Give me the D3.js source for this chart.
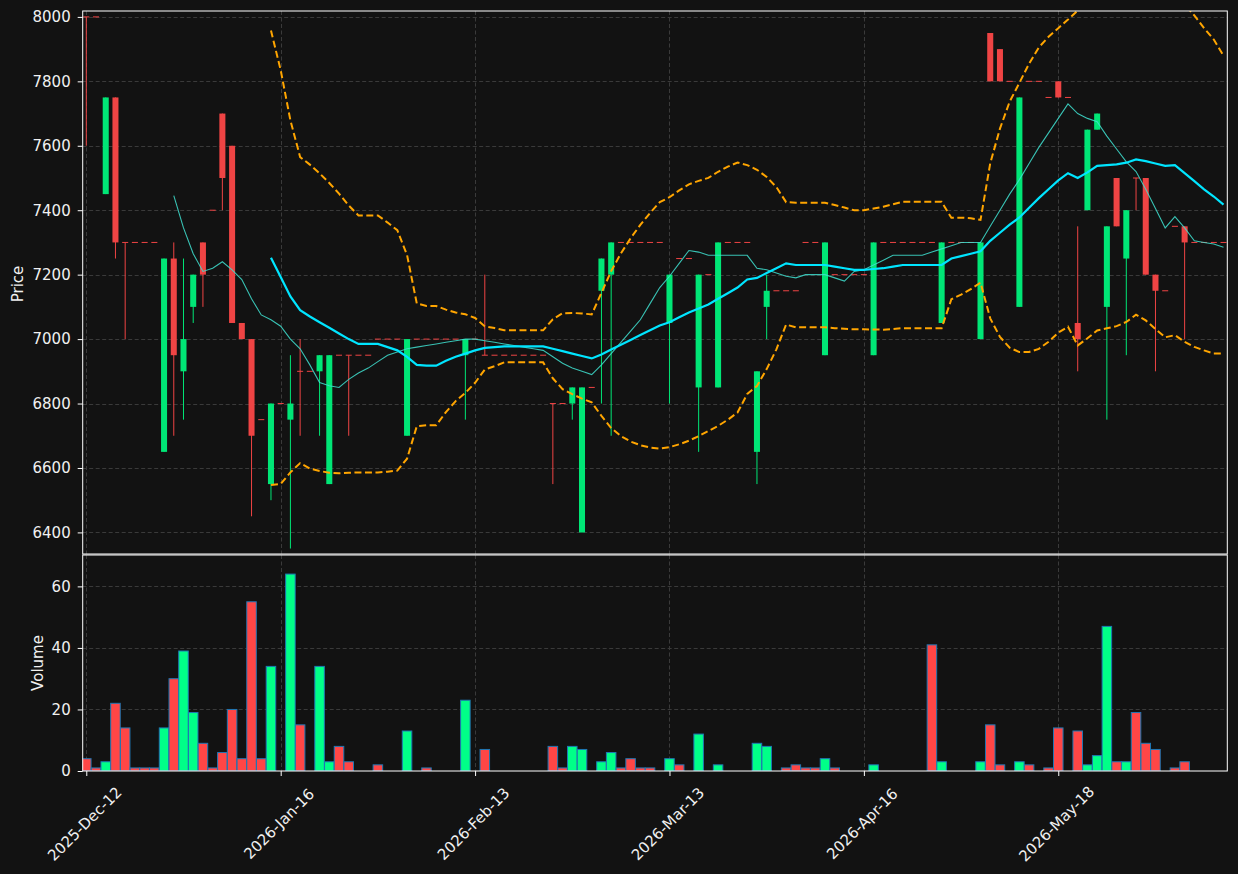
<!DOCTYPE html>
<html>
<head>
<meta charset="utf-8">
<script src="https://cdn.jsdelivr.net/npm/d3@7"></script>
<style>
  body { margin: 0; background: #121212; }
  svg { display: block; font-family: "DejaVu Sans", sans-serif; }
</style>
</head>
<body>
<svg width="1238" height="874"></svg>
<script>
// candle data, one entry per trading bar (index 0 = 2025-Dec-12)
var opens = [
  8000, 8000, 7450, 7750, 7300, 7300, 7300, 7300, 6650, 7250,
  6900, 7100, 7300, 7400, 7700, 7600, 7050, 7000, 6750, 6550,
  6800, 6750, 6900, 6900, 6900, 6550, 6950, 6950, 6950, 6950,
  7000, 7000, 7000, 6700, 7000, 7000, 7000, 7000, 7000, 6950,
  7000, 6950, 6950, 6950, 6950, 6950, 6950, 6950, 6800, 6800,
  6800, 6400, 6850, 7150, 7200, 7300, 7300, 7300, 7300, 7300,
  7050, 7250, 7250, 6850, 7200, 6850, 7300, 7300, 7300, 6650,
  7100, 7150, 7150, 7150, 7300, 7300, 6950, 7200, 7200, 7200,
  7200, 6950, 7300, 7300, 7300, 7300, 7300, 7300, 7050, 7300,
  7300, 7300, 7000, 7950, 7900, 7800, 7100, 7800, 7800, 7750,
  7800, 7750, 7050, 7400, 7650, 7100, 7500, 7250, 7500, 7500,
  7200, 7150, 7350, 7350, 7300, 7300, 7300, 7300
];
var highs = [
  8000, 8000, 7750, 7750, 7300, 7300, 7300, 7300, 7250, 7300,
  7250, 7200, 7300, 7400, 7700, 7600, 7050, 7000, 6750, 6800,
  6800, 6950, 7000, 6900, 6950, 6950, 6950, 6950, 6950, 6950,
  7000, 7000, 7000, 7000, 7000, 7000, 7000, 7000, 7000, 7000,
  7000, 7200, 6950, 6950, 6950, 6950, 6950, 6950, 6800, 6800,
  6850, 6850, 6850, 7250, 7300, 7300, 7300, 7300, 7300, 7300,
  7200, 7250, 7250, 7200, 7200, 7300, 7300, 7300, 7300, 6900,
  7200, 7150, 7150, 7150, 7300, 7300, 7300, 7200, 7200, 7200,
  7200, 7300, 7300, 7300, 7300, 7300, 7300, 7300, 7300, 7300,
  7300, 7300, 7300, 7950, 7900, 7800, 7750, 7800, 7800, 7750,
  7800, 7750, 7350, 7650, 7700, 7350, 7500, 7400, 7500, 7500,
  7200, 7150, 7350, 7350, 7300, 7300, 7300, 7300
];
var lows = [
  7600, 8000, 7450, 7250, 7000, 7300, 7300, 7300, 6650, 6700,
  6750, 7050, 7100, 7400, 7400, 7050, 7000, 6450, 6750, 6500,
  6800, 6350, 6700, 6900, 6700, 6550, 6950, 6700, 6950, 6950,
  7000, 7000, 7000, 6700, 7000, 7000, 7000, 7000, 7000, 6750,
  7000, 6950, 6950, 6950, 6950, 6950, 6950, 6950, 6550, 6800,
  6750, 6400, 6850, 6800, 6700, 7300, 7300, 7300, 7300, 7300,
  6800, 7250, 7250, 6650, 7200, 6850, 7300, 7300, 7300, 6550,
  7000, 7150, 7150, 7150, 7300, 7300, 6950, 7200, 7200, 7200,
  7200, 6950, 7300, 7300, 7300, 7300, 7300, 7300, 7050, 7300,
  7300, 7300, 7000, 7800, 7800, 7800, 7100, 7800, 7800, 7750,
  7750, 7750, 6900, 7400, 7650, 6750, 7350, 6950, 7400, 7200,
  6900, 7150, 7350, 7000, 7300, 7300, 7300, 7300
];
var closes = [
  8000, 8000, 7750, 7300, 7300, 7300, 7300, 7300, 7250, 6950,
  7000, 7200, 7200, 7400, 7500, 7050, 7000, 6700, 6750, 6800,
  6800, 6800, 6900, 6900, 6950, 6950, 6950, 6950, 6950, 6950,
  7000, 7000, 7000, 7000, 7000, 7000, 7000, 7000, 7000, 7000,
  7000, 6950, 6950, 6950, 6950, 6950, 6950, 6950, 6800, 6800,
  6850, 6850, 6850, 7250, 7300, 7300, 7300, 7300, 7300, 7300,
  7200, 7250, 7250, 7200, 7200, 7300, 7300, 7300, 7300, 6900,
  7150, 7150, 7150, 7150, 7300, 7300, 7300, 7200, 7200, 7200,
  7200, 7300, 7300, 7300, 7300, 7300, 7300, 7300, 7300, 7300,
  7300, 7300, 7300, 7800, 7800, 7800, 7750, 7800, 7800, 7750,
  7750, 7750, 7000, 7650, 7700, 7350, 7350, 7400, 7500, 7200,
  7150, 7150, 7350, 7300, 7300, 7300, 7300, 7300
];
var volumes = [
  4, 1, 3, 22, 14, 1, 1, 1, 14, 30,
  39, 19, 9, 1, 6, 20, 4, 55, 4, 34,
  0, 64, 15, 0, 34, 3, 8, 3, 0, 0,
  2, 0, 0, 13, 0, 1, 0, 0, 0, 23,
  0, 7, 0, 0, 0, 0, 0, 0, 8, 1,
  8, 7, 0, 3, 6, 1, 4, 1, 1, 0,
  4, 2, 0, 12, 0, 2, 0, 0, 0, 9,
  8, 0, 1, 2, 1, 1, 4, 1, 0, 0,
  0, 2, 0, 0, 0, 0, 0, 41, 3, 0,
  0, 0, 3, 15, 2, 0, 3, 2, 0, 1,
  14, 0, 13, 2, 5, 47, 3, 3, 19, 9,
  7, 0, 1, 3, 0, 0, 0, 0
];

// axis ticks
var dateTickIdx = [0, 20, 40, 60, 80, 100];
var dateTickLabels = ['2025-Dec-12', '2026-Jan-16', '2026-Feb-13', '2026-Mar-13', '2026-Apr-16', '2026-May-18'];
var priceTicks = [6400, 6600, 6800, 7000, 7200, 7400, 7600, 7800, 8000];
var volumeTicks = [0, 20, 40, 60];

var up_color = '#00e676';
var down_color = '#ef4444';
var vol_up = '#00ff88';
var vol_down = '#ff4646';
var text_color = '#f0f0f0';
var grid_color = '#3a3a3a';
var font_size = '15px';

var svg = d3.select('svg');
svg.append('rect').attr('width', 1238).attr('height', 874).attr('fill', '#121212');

var left = 82.7, right = 1227.3;
var price_top = 11, price_bottom = 554;
var vol_top = 555, vol_bottom = 771;

var x = d3.scaleLinear().domain([-0.37, 117.39]).range([left, right]);
var yPrice = d3.scaleLinear().domain([6333, 8018.3]).range([price_bottom, price_top]);
var yVol = d3.scaleLinear().domain([0, 70.2]).range([vol_bottom, vol_top]);

var step = x(1) - x(0);
var body_w = step * 0.62;

// rolling mean / std of closes (what the indicators are built from)
function rolling(n, fn) {
  return closes.map(function(c, i) {
    if (i < n - 1) return null;
    return fn(closes.slice(i - n + 1, i + 1));
  });
}
function band(k) {
  return function(w) {
    var m = d3.mean(w);
    return m + k * Math.sqrt(d3.mean(w, function(v) { return (v - m) * (v - m); }));
  };
}
var mav10 = rolling(10, d3.mean);
var mav20 = rolling(20, d3.mean);
var bbUpper = rolling(20, band(2));
var bbLower = rolling(20, band(-2));

var defs = svg.append('defs');
defs.append('clipPath').attr('id', 'clip-price')
  .append('rect').attr('x', left).attr('y', price_top).attr('width', right - left).attr('height', price_bottom - price_top);
defs.append('clipPath').attr('id', 'clip-vol')
  .append('rect').attr('x', left).attr('y', vol_top).attr('width', right - left).attr('height', vol_bottom - vol_top);

// grid lines
function grid(top, bottom, yScale, ticks) {
  var g = svg.append('g')
    .attr('stroke', grid_color)
    .attr('stroke-width', 1)
    .attr('stroke-dasharray', '4,2.5');
  g.selectAll('.hg').data(ticks).enter().append('line')
    .attr('x1', left).attr('x2', right)
    .attr('y1', function(d) { return Math.round(yScale(d)) + 0.5; })
    .attr('y2', function(d) { return Math.round(yScale(d)) + 0.5; });
  g.selectAll('.vg').data(dateTickIdx).enter().append('line')
    .attr('x1', function(d) { return Math.round(x(d)) + 0.5; })
    .attr('x2', function(d) { return Math.round(x(d)) + 0.5; })
    .attr('y1', top).attr('y2', bottom);
}
grid(price_top, price_bottom, yPrice, priceTicks);
grid(vol_top, vol_bottom, yVol, volumeTicks.slice(1));

// candles
var candles = svg.append('g').attr('clip-path', 'url(#clip-price)')
  .selectAll('g').data(closes).enter().append('g');

candles.append('line')
  .attr('x1', function(d, i) { return x(i); })
  .attr('x2', function(d, i) { return x(i); })
  .attr('y1', function(d, i) { return yPrice(highs[i]); })
  .attr('y2', function(d, i) { return yPrice(lows[i]); })
  .attr('stroke', function(d, i) { return d > opens[i] ? up_color : down_color; })
  .attr('stroke-width', 1);

candles.append('rect')
  .attr('x', function(d, i) { return x(i) - body_w / 2; })
  .attr('width', body_w)
  .attr('y', function(d, i) { return yPrice(Math.max(d, opens[i])) - (d === opens[i] ? 0.5 : 0); })
  .attr('height', function(d, i) { return Math.max(1, Math.abs(yPrice(d) - yPrice(opens[i]))); })
  .attr('fill', function(d, i) { return d > opens[i] ? up_color : down_color; });

// indicator lines
var line = d3.line()
  .defined(function(d) { return d != null; })
  .x(function(d, i) { return x(i); })
  .y(function(d) { return yPrice(d); });

var lines = svg.append('g').attr('clip-path', 'url(#clip-price)').attr('fill', 'none');
lines.append('path').datum(mav10).attr('d', line)
  .attr('stroke', '#40e0d0').attr('stroke-opacity', 0.85).attr('stroke-width', 1.1);
lines.append('path').datum(mav20).attr('d', line)
  .attr('stroke', '#00e5ff').attr('stroke-width', 2.2);
lines.append('path').datum(bbUpper).attr('d', line)
  .attr('stroke', '#ffa500').attr('stroke-width', 2).attr('stroke-dasharray', '7,3.5');
lines.append('path').datum(bbLower).attr('d', line)
  .attr('stroke', '#ffa500').attr('stroke-width', 2).attr('stroke-dasharray', '7,3.5');

// volume bars
svg.append('g').attr('clip-path', 'url(#clip-vol)')
  .selectAll('rect').data(volumes).enter()
  .append('rect')
  .attr('x', function(d, i) { return x(i) - step * 0.49; })
  .attr('width', step * 0.98)
  .attr('y', function(d) { return yVol(d); })
  .attr('height', function(d) { return yVol(0) - yVol(d); })
  .attr('fill', function(d, i) { return closes[i] > opens[i] ? vol_up : vol_down; })
  .attr('stroke', '#1f77b4')
  .attr('stroke-width', function(d) { return d > 0 ? 1 : 0; });

// frames
svg.append('rect').attr('x', left).attr('y', price_top).attr('width', right - left).attr('height', price_bottom - price_top)
  .attr('fill', 'none').attr('stroke', '#ffffff').attr('stroke-width', 1);
svg.append('rect').attr('x', left).attr('y', vol_top).attr('width', right - left).attr('height', vol_bottom - vol_top)
  .attr('fill', 'none').attr('stroke', '#ffffff').attr('stroke-width', 1);

// axes
function styleAxis(g) {
  g.select('.domain').remove();
  g.selectAll('line').attr('stroke', '#ffffff');
  g.selectAll('text').attr('fill', text_color).style('font-size', font_size).style('font-family', '"DejaVu Sans", sans-serif');
}

svg.append('g').attr('transform', 'translate(' + left + ',0)')
  .call(d3.axisLeft(yPrice).tickValues(priceTicks).tickSize(5).tickPadding(7).tickFormat(d3.format('d')))
  .call(styleAxis);

svg.append('g').attr('transform', 'translate(' + left + ',0)')
  .call(d3.axisLeft(yVol).tickValues(volumeTicks).tickSize(5).tickPadding(7).tickFormat(d3.format('d')))
  .call(styleAxis);

var xAxis = svg.append('g').attr('transform', 'translate(0,' + vol_bottom + ')')
  .call(d3.axisBottom(x).tickValues(dateTickIdx).tickSize(5).tickFormat(function(d, i) { return dateTickLabels[i]; }))
  .call(styleAxis);
xAxis.selectAll('text')
  .attr('text-anchor', 'middle')
  .attr('dy', null)
  .attr('y', 0)
  .attr('dominant-baseline', 'central')
  .attr('transform', 'translate(-2,53) rotate(-45)');

// axis titles
svg.append('text')
  .attr('transform', 'translate(18,284) rotate(-90)')
  .attr('text-anchor', 'middle').attr('dominant-baseline', 'central')
  .attr('fill', text_color).style('font-size', font_size)
  .text('Price');
svg.append('text')
  .attr('transform', 'translate(38,663) rotate(-90)')
  .attr('text-anchor', 'middle').attr('dominant-baseline', 'central')
  .attr('fill', text_color).style('font-size', font_size)
  .text('Volume');
</script>
</body>
</html>
